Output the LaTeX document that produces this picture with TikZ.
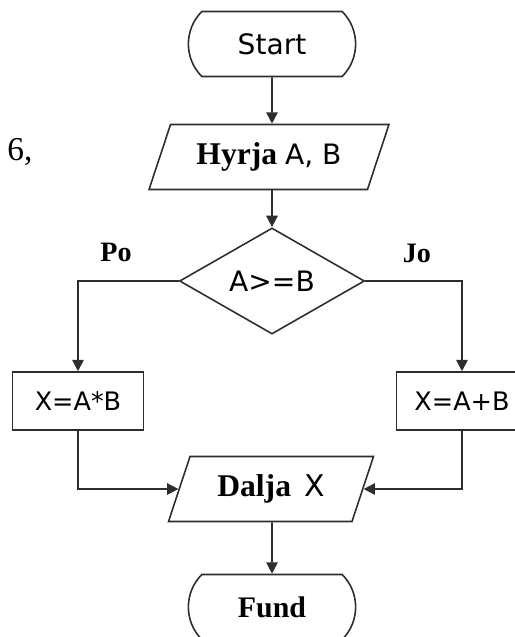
\documentclass[tikz,border=0pt]{standalone}
\usepackage{fontspec}
\setmainfont{Liberation Serif}
\newfontfamily\boxfont{DejaVu Sans}
\usepackage{tikz}
\usetikzlibrary{arrows.meta, shapes.geometric, shapes.misc}
\definecolor{lineblack}{RGB}{45, 45, 45}

\begin{document}
\begin{tikzpicture}[x=0.02cm, y=-0.02cm, >={Triangle[length=6.5pt, width=6.5pt]},
  line/.style={draw=lineblack, line width=0.9pt},
  terminal/.style={line, rounded rectangle, rounded rectangle arc length=90,
    minimum width=3.58cm, minimum height=1.3cm},
  io/.style={line, trapezium, trapezium left angle=62, trapezium right angle=118,
    trapezium stretches body, minimum height=1.3cm},
  decision/.style={line, diamond, inner sep=0pt, minimum width=3.7cm, minimum height=1.64cm},
  process/.style={line, rectangle, minimum width=2.62cm, minimum height=1.16cm},
  serifbig/.style={font=\fontsize{18}{20}\selectfont\bfseries},
  sansbig/.style={font=\fontsize{16}{18}\selectfont\boxfont}]
  \clip (0,0) rectangle (515,637);

  % left margin text
  \node[font=\fontsize{19}{21}\selectfont] (margin) at (20,152) {6,};

  % shapes
  \node[terminal, sansbig] (start) at (272,44) {Start};
  \node[io, serifbig, minimum width=4.8cm] (hyrja) at (269,157) {Hyrja {\mdseries\boxfont\fontsize{16}{18}\selectfont A, B}};
  \node[decision, sansbig] (cond) at (272,281) {A>=B};
  \node[process, font=\fontsize{14.5}{16}\selectfont\boxfont] (prod) at (78,401) {X=A*B};
  \node[process, font=\fontsize{14.5}{16}\selectfont\boxfont] (sum) at (462,401) {X=A+B};
  \node[io, serifbig, minimum width=4.1cm] (dalja) at (271,489) {Dalja\, {\mdseries\boxfont\fontsize{17}{18}\selectfont X}};
  \node[terminal, font=\fontsize{17}{18}\selectfont\bfseries] (fund) at (272,607) {Fund};

  % branch labels
  \node[font=\fontsize{16}{18}\selectfont\bfseries] (po) at (116,252) {Po};
  \node[font=\fontsize{16}{18}\selectfont\bfseries] (jo) at (417,253) {Jo};

  % connectors
  \draw[line, ->] (start) -- (start |- hyrja.north);
  \draw[line, ->] (start |- hyrja.south) -- (cond);
  \draw[line, ->] (cond.west) -| (prod.north);
  \draw[line, ->] (cond.east) -| (sum.north);
  \draw[line, ->] (prod.south) |- (dalja.west);
  \draw[line, ->] (sum.south) |- (dalja.east);
  \draw[line, ->] (start |- dalja.south) -- (fund);

\end{tikzpicture}
\end{document}
